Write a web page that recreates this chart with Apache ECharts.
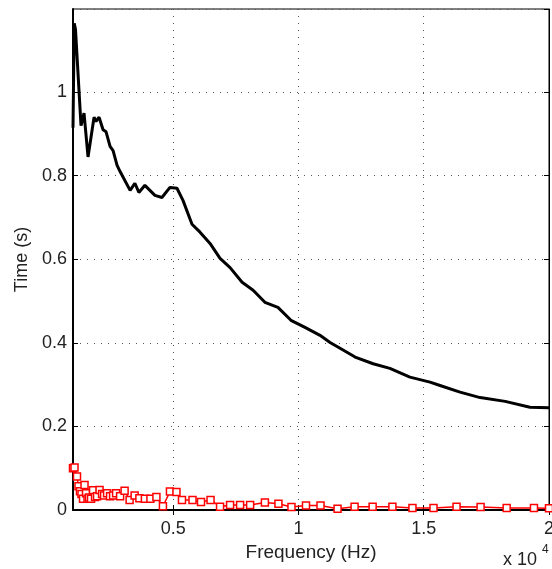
<!DOCTYPE html>
<html>
<head>
<meta charset="utf-8">
<script src="https://cdn.jsdelivr.net/npm/echarts@6/dist/echarts.min.js"></script>
<style>
  html, body { margin: 0; padding: 0; background: #fff; }
  #chart-panel { width: 552px; height: 569px; }
</style>
</head>
<body>
<div id="chart-panel"></div>
<script>
var chart = echarts.init(document.getElementById('chart-panel'));

// black curve: frequency (Hz) / time (s)
var blackFreq = [1000, 1050, 1100, 1320, 1440, 1600, 1840, 1920, 2040, 2200, 2320, 2480, 2600, 2760,
    2880, 3280, 3470, 3630, 3870, 4270, 4550, 4870, 5150, 5390, 5750, 6070, 6470, 6870, 7270, 7750,
    8190, 8660, 9180, 9700, 10260, 10860, 11260, 11660, 12260, 12980, 13650, 14450, 15250, 15650,
    16450, 17250, 18250, 19240, 20000];
var blackTime = [0.915, 1.165, 1.15, 0.92, 0.95, 0.845, 0.94, 0.93, 0.94, 0.91, 0.905, 0.87, 0.86, 0.825,
    0.81, 0.765, 0.782, 0.76, 0.777, 0.753, 0.748, 0.772, 0.77, 0.741, 0.684, 0.665, 0.638, 0.602, 0.58, 0.545,
    0.526, 0.497, 0.485, 0.454, 0.437, 0.418, 0.401, 0.387, 0.366, 0.35, 0.339, 0.318, 0.306, 0.298,
    0.282, 0.269, 0.26, 0.246, 0.245];

// red curve with square markers
var redFreq = [1000, 1060, 1160, 1220, 1280, 1340, 1400, 1460, 1520, 1580, 1640, 1720, 1800, 1880, 1960,
    2060, 2160, 2240, 2360, 2480, 2600, 2720, 2880, 3060, 3260, 3460, 3650, 3870, 4090, 4330, 4590,
    4870, 5130, 5350, 5770, 6110, 6490, 6870, 7270, 7670, 8070, 8660, 9200, 9720, 10300, 10880,
    11560, 12240, 12960, 13750, 14550, 15390, 16310, 17270, 18310, 19400, 20000];
var redTime = [0.1, 0.102, 0.08, 0.057, 0.045, 0.038, 0.027, 0.06, 0.04, 0.027, 0.03, 0.027, 0.047, 0.031, 0.033,
    0.048, 0.038, 0.035, 0.04, 0.033, 0.035, 0.04, 0.033, 0.046, 0.024, 0.035, 0.028, 0.027, 0.027, 0.031, 0.009,
    0.044, 0.043, 0.024, 0.024, 0.019, 0.024, 0.008, 0.012, 0.012, 0.012, 0.018, 0.015, 0.007, 0.011, 0.011,
    0.003, 0.008, 0.008, 0.008, 0.005, 0.005, 0.008, 0.007, 0.005, 0.005, 0.004];

var xTicks = [5000, 10000, 15000, 20000];

function pairs(xs, ys) {
    var d = [];
    for (var i = 0; i < xs.length; i++) {
        d.push([xs[i], ys[i]]);
    }
    return d;
}

var font = 'Liberation Sans, Arial, sans-serif';
var gridDots = { show: true, lineStyle: { color: '#555', width: 1, type: [1, 6] } };

var option = {
    animation: false,
    grid: {
        left: 73, top: 9, right: 3, bottom: 59,
        outerBoundsMode: 'none',
        show: true, borderColor: '#000', borderWidth: 1, backgroundColor: '#fff'
    },
    xAxis: [{
        type: 'value',
        min: 1000,
        max: 20000,
        name: 'Frequency (Hz)',
        nameLocation: 'middle',
        nameGap: 31,
        nameTextStyle: { fontFamily: font, fontSize: 19, color: '#222' },
        axisLine: { show: true, onZero: false, lineStyle: { color: '#000', width: 2 } },
        axisTick: { show: true, inside: true, length: 5, customValues: xTicks, lineStyle: { color: '#000' } },
        axisLabel: {
            customValues: xTicks,
            fontFamily: font, fontSize: 18, color: '#222', margin: 10,
            formatter: function (v) { return String(v / 10000); }
        },
        splitLine: gridDots
    }, {
        type: 'value',
        position: 'top',
        min: 1000,
        max: 20000,
        axisLine: { show: true, lineStyle: { color: '#000', width: 1 } },
        axisTick: { show: true, inside: true, length: 5, customValues: xTicks, lineStyle: { color: '#000' } },
        axisLabel: { show: false },
        splitLine: { show: false }
    }],
    yAxis: [{
        type: 'value',
        min: 0,
        max: 1.199,
        interval: 0.2,
        name: 'Time (s)',
        nameLocation: 'middle',
        nameGap: 42,
        nameTextStyle: { fontFamily: font, fontSize: 18, color: '#222' },
        axisLine: { show: true, lineStyle: { color: '#000', width: 2 } },
        axisTick: { show: true, inside: true, length: 5, lineStyle: { color: '#000' } },
        axisLabel: {
            fontFamily: font, fontSize: 18, color: '#222', margin: 6,
            showMaxLabel: false,
            formatter: function (v) { return String(Math.round(v * 10) / 10); }
        },
        splitLine: gridDots
    }, {
        type: 'value',
        position: 'right',
        min: 0,
        max: 1.199,
        interval: 0.2,
        axisLine: { show: true, lineStyle: { color: '#000', width: 1 } },
        axisTick: { show: true, inside: true, length: 5, lineStyle: { color: '#000' } },
        axisLabel: { show: false },
        splitLine: { show: false }
    }],
    series: [{
        type: 'line',
        data: pairs(blackFreq, blackTime),
        showSymbol: false,
        lineStyle: { color: '#000', width: 3 },
        z: 3
    }, {
        type: 'line',
        data: pairs(redFreq, redTime),
        symbol: 'rect',
        symbolSize: 7,
        itemStyle: { color: '#fff', borderColor: '#f00', borderWidth: 1.5 },
        lineStyle: { color: '#f00', width: 1.5 },
        z: 4
    }],
    graphic: [{
        type: 'text',
        left: 503,
        top: 551,
        style: { text: 'x 10', fontFamily: font, fontSize: 18, fill: '#222' }
    }, {
        type: 'text',
        left: 542,
        top: 544,
        style: { text: '4', fontFamily: font, fontSize: 12, fill: '#222' }
    }]
};

chart.setOption(option);
</script>
</body>
</html>
